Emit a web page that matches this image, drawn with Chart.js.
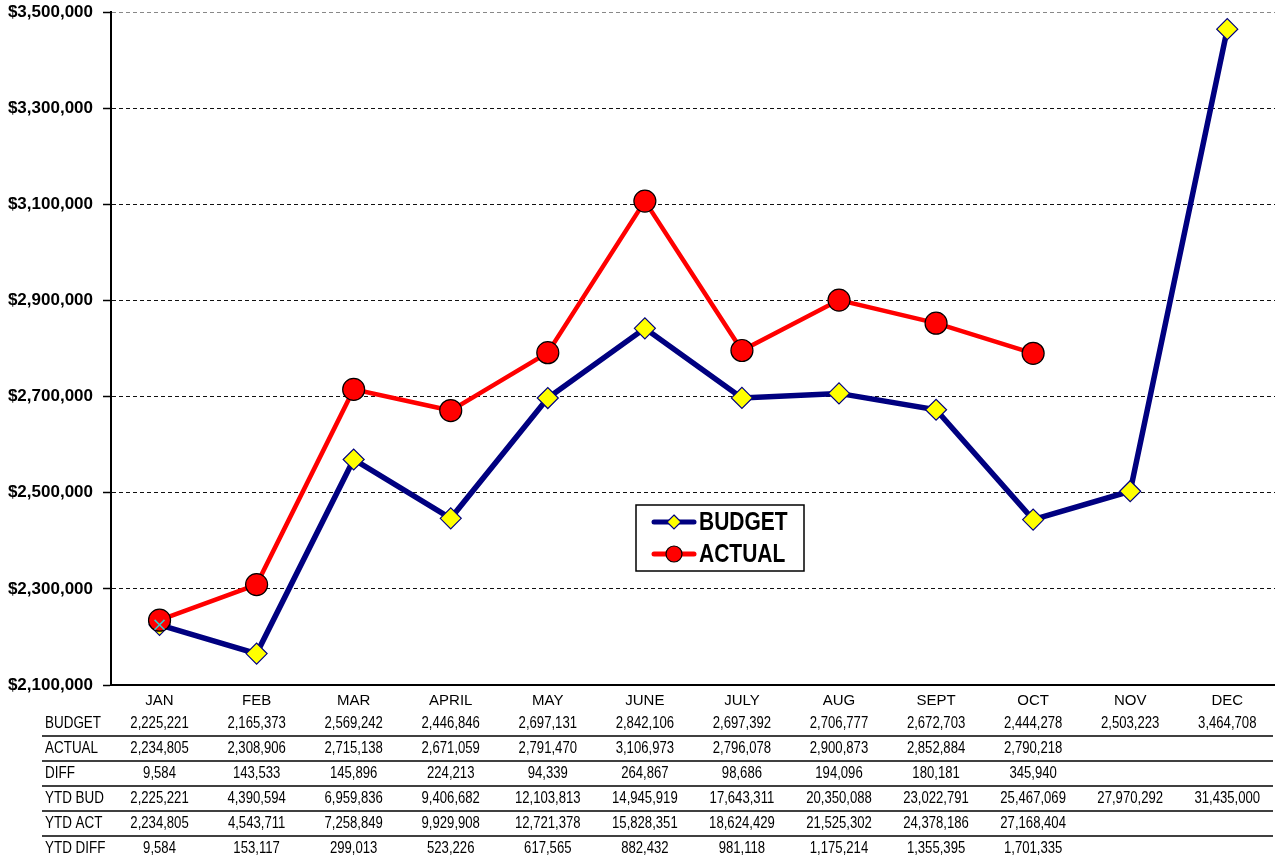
<html><head>
<meta charset="UTF-8">
<title>Budget vs Actual</title>
<script src="https://cdn.jsdelivr.net/npm/chart.js"></script>
<style>
* { margin: 0; padding: 0; box-sizing: border-box; }
body { background: white; width: 1275px; height: 862px; overflow: hidden; }
.wrap { position: relative; width: 1275px; height: 862px; overflow: hidden; }
/* canvas is a bit larger than the page so the plot runs flush to the right and top edges */
#chart { position: absolute; left: 0; top: -8px; }
</style>
</head>
<body>
<div class="wrap"><canvas id="chart" width="1288" height="870"></canvas></div>
<script>
const FONT = "'Liberation Sans Narrow', 'Arial Narrow', 'Liberation Sans', Arial, sans-serif";
const SHIFT = 8; // canvas top offset

const months = ['JAN', 'FEB', 'MAR', 'APRIL', 'MAY', 'JUNE', 'JULY', 'AUG', 'SEPT', 'OCT', 'NOV', 'DEC'];
const budget = [2225221, 2165373, 2569242, 2446846, 2697131, 2842106, 2697392, 2706777, 2672703, 2444278, 2503223, 3464708];
const actual = [2234805, 2308906, 2715138, 2671059, 2791470, 3106973, 2796078, 2900873, 2852884, 2790218, null, null];
const diff = [9584, 143533, 145896, 224213, 94339, 264867, 98686, 194096, 180181, 345940, null, null];
const ytdBud = [2225221, 4390594, 6959836, 9406682, 12103813, 14945919, 17643311, 20350088, 23022791, 25467069, 27970292, 31435000];
const ytdAct = [2234805, 4543711, 7258849, 9929908, 12721378, 15828351, 18624429, 21525302, 24378186, 27168404, null, null];
const ytdDiff = [9584, 153117, 299013, 523226, 617565, 882432, 981118, 1175214, 1355395, 1701335, null, null];
// stray cross marker sitting on the JAN point
const janMark = [2225221, null, null, null, null, null, null, null, null, null, null, null];

const yMin = 2100000, yMax = 3500000, yStep = 200000;

const tableRows = [
  ['BUDGET', budget],
  ['ACTUAL', actual],
  ['DIFF', diff],
  ['YTD BUD', ytdBud],
  ['YTD ACT', ytdAct],
  ['YTD DIFF', ytdDiff]
];

const fmt = v => v == null ? '' : v.toLocaleString('en-US');

// fake a narrow face by squeezing the text horizontally
function narrowText(ctx, text, x, y, align, squeeze) {
  ctx.save();
  ctx.translate(x, y);
  ctx.scale(squeeze, 1);
  ctx.textAlign = align;
  ctx.fillText(text, 0, 0);
  ctx.restore();
}

const tablePlugin = {
  id: 'dataTable',
  afterDraw(chart) {
    const ctx = chart.ctx;
    const x = chart.scales.x;
    const base = chart.chartArea.bottom;
    ctx.save();
    ctx.font = '16px ' + FONT;
    ctx.fillStyle = '#000';
    ctx.textBaseline = 'middle';
    tableRows.forEach((row, r) => {
      const y = base + 39 + r * 25;
      narrowText(ctx, row[0], 45, y, 'left', 0.84);
      row[1].forEach((v, i) => narrowText(ctx, fmt(v), x.getPixelForValue(i), y, 'center', 0.82));
      if (r < tableRows.length - 1) {
        ctx.strokeStyle = '#000';
        ctx.lineWidth = 1.5;
        ctx.beginPath();
        ctx.moveTo(42, y + 12);
        ctx.lineTo(1273, y + 12);
        ctx.stroke();
      }
    });

    // legend box
    const bx = 636, by = 505 + SHIFT, bw = 168, bh = 66;
    ctx.fillStyle = '#fff';
    ctx.fillRect(bx, by, bw, bh);
    ctx.strokeStyle = '#000';
    ctx.lineWidth = 1.5;
    ctx.strokeRect(bx, by, bw, bh);

    const items = [
      { label: 'BUDGET', color: '#000080', y: by + 17, marker: 'diamond' },
      { label: 'ACTUAL', color: '#ff0000', y: by + 49, marker: 'circle' }
    ];
    items.forEach(it => {
      ctx.strokeStyle = it.color;
      ctx.lineWidth = 5;
      ctx.lineCap = 'round';
      ctx.beginPath();
      ctx.moveTo(654, it.y);
      ctx.lineTo(694, it.y);
      ctx.stroke();
      ctx.lineWidth = 1.2;
      ctx.beginPath();
      if (it.marker === 'diamond') {
        ctx.fillStyle = '#ffff00';
        ctx.strokeStyle = '#000080';
        ctx.moveTo(674, it.y - 7);
        ctx.lineTo(681, it.y);
        ctx.lineTo(674, it.y + 7);
        ctx.lineTo(667, it.y);
        ctx.closePath();
      } else {
        ctx.fillStyle = '#ff0000';
        ctx.strokeStyle = '#000';
        ctx.arc(674, it.y, 8, 0, Math.PI * 2);
      }
      ctx.fill();
      ctx.stroke();
      ctx.fillStyle = '#000';
      ctx.font = 'bold 25px ' + FONT;
      narrowText(ctx, it.label, 699, it.y + 1, 'left', 0.84);
    });
    ctx.restore();
  }
};

new Chart(document.getElementById('chart'), {
  type: 'line',
  data: {
    labels: months,
    datasets: [
      {
        label: 'mark',
        data: janMark,
        showLine: false,
        pointStyle: 'crossRot',
        pointRadius: 7,
        pointBorderColor: '#33cccc',
        pointBorderWidth: 1.5
      },
      {
        label: 'ACTUAL',
        data: actual,
        borderColor: '#ff0000',
        borderWidth: 4.5,
        pointStyle: 'circle',
        pointRadius: 11,
        pointBackgroundColor: '#ff0000',
        pointBorderColor: '#000',
        pointBorderWidth: 1.2,
        tension: 0
      },
      {
        label: 'BUDGET',
        data: budget,
        borderColor: '#000080',
        borderWidth: 5.5,
        pointStyle: 'rectRot',
        pointRadius: 10.5,
        pointBackgroundColor: '#ffff00',
        pointBorderColor: '#000080',
        pointBorderWidth: 1.2,
        tension: 0
      }
    ]
  },
  options: {
    responsive: false,
    animation: false,
    layout: { padding: { top: 2, left: 0, right: 0, bottom: 0 } },
    plugins: {
      legend: { display: false },
      tooltip: { enabled: false }
    },
    scales: {
      x: {
        offset: true,
        grid: { display: false, drawTicks: false },
        border: { display: true, color: '#000', width: 2 },
        ticks: {
          color: '#000',
          font: { family: FONT, size: 15 },
          padding: 7,
          maxRotation: 0,
          autoSkip: false
        },
        afterFit(scale) { scale.height = 177; }
      },
      y: {
        min: yMin,
        max: yMax,
        grid: {
          color: c => c.tick && c.tick.value === yMax ? '#888' : '#111',
          lineWidth: 1,
          tickLength: 8,
          tickColor: '#000',
          tickBorderDash: [],
          tickWidth: 1.5
        },
        border: { display: true, color: '#000', width: 2, dash: [4, 3] },
        ticks: {
          stepSize: yStep,
          color: '#000',
          padding: 10,
          font: { family: FONT, size: 17, weight: 'bold' },
          callback: v => '$' + v.toLocaleString('en-US')
        },
        afterFit(scale) { scale.width = 111; }
      }
    }
  },
  plugins: [tablePlugin]
});
</script>
</body></html>
